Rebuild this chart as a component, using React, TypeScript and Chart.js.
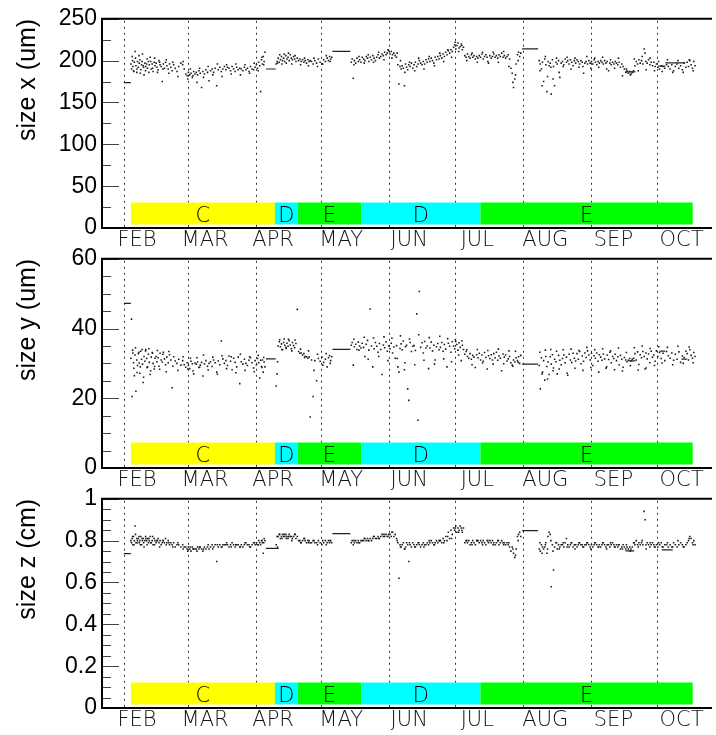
import React, { useEffect, useRef } from 'react';
import { Chart, registerables } from 'chart.js';
Chart.register(...registerables);

// ---- axis / category data ----
const monthNames = ['FEB', 'MAR', 'APR', 'MAY', 'JUN', 'JUL', 'AUG', 'SEP', 'OCT'];
const monthLabelDays = [37, 68, 99, 130, 161, 192, 223, 254, 285];
const monthStartDays = [31, 60, 91, 121, 152, 182, 213, 244, 274];

const periodStarts = [34.2, 99.8, 110.2, 139.1, 193.4];
const periodEnds = [99.8, 110.2, 139.1, 193.4, 290.1];
const periodNames = ['C', 'D', 'E', 'D', 'E'];

// ---- measurements (day of year) ----
const days = [
  34.2, 34.5, 34.8, 35.1, 35.4, 35.8, 36.1, 36.5, 36.9, 37.2,
  37.6, 38.0, 38.3, 38.7, 39.1, 39.5, 39.8, 40.2, 40.6, 41.0,
  41.4, 41.8, 42.2, 42.6, 43.0, 43.5, 43.9, 44.3, 44.8, 45.2,
  45.7, 46.1, 46.6, 47.0, 47.5, 48.0, 48.5, 49.0, 49.5, 50.0,
  50.6, 51.2, 51.8, 52.4, 53.0, 53.7, 54.4, 55.2, 56.0, 57.0,
  57.8, 58.5, 59.2, 59.8, 60.4, 61.0, 61.6, 62.2, 62.8, 63.4,
  64.0, 64.6, 65.2, 65.8, 66.4, 67.0, 67.7, 68.4, 69.1, 69.8,
  70.5, 71.2, 71.9, 72.6, 73.3, 74.0, 74.7, 75.4, 76.1, 76.8,
  77.5, 78.2, 78.9, 79.6, 80.3, 81.0, 81.7, 82.4, 83.1, 83.8,
  84.5, 85.2, 85.9, 86.6, 87.3, 88.0, 88.7, 89.4, 90.1, 90.8,
  91.4, 91.9, 92.4, 92.9, 93.3, 93.7, 94.1, 94.5, 94.9, 95.3,
  100.4, 100.8, 101.3, 101.8, 102.3, 102.8, 103.3, 103.8, 104.3, 104.8,
  105.3, 105.8, 106.3, 106.8, 107.3, 107.8, 108.3, 108.8, 109.4, 110.0,
  110.6, 111.2, 111.8, 112.4, 113.0, 113.6, 114.2, 114.8, 115.4, 115.9,
  116.5, 117.2, 118.0, 118.8, 119.6, 120.4, 121.2, 122.0, 122.8, 123.6,
  124.2, 124.7, 125.2, 125.7,
  134.6, 135.0, 135.5, 136.0, 136.6, 137.2, 137.8, 138.4, 139.0, 139.6,
  140.2, 140.8, 141.4, 142.0, 142.6, 143.2, 143.8, 144.4, 145.0, 145.6,
  146.2, 146.8, 147.4, 148.0, 148.6, 149.2, 149.8, 150.4, 151.0, 151.6,
  152.2, 152.8, 153.4, 154.0, 154.6, 155.2, 155.8, 156.3, 156.8, 157.3,
  157.8, 158.3, 158.8, 159.3, 159.8, 160.3, 160.8, 161.4, 162.0, 162.6,
  163.2, 163.8, 164.4, 165.0, 165.6, 166.2, 166.8, 167.4, 168.0, 168.6,
  169.2, 169.8, 170.4, 171.0, 171.6, 172.2, 172.8, 173.4, 174.0, 174.6,
  175.2, 175.8, 176.4, 177.0, 177.6, 178.2, 178.8, 179.4, 180.0, 180.6,
  181.2, 181.7, 182.2, 182.7, 183.2, 183.7, 184.2, 184.7, 185.2, 185.7,
  186.3, 186.9, 187.5, 188.1, 188.7, 189.3, 189.9, 190.5, 191.1, 191.7,
  192.3, 192.9, 193.5, 194.1, 194.7, 195.3, 195.9, 196.5, 197.1, 197.7,
  198.3, 198.9, 199.5, 200.1, 200.7, 201.3, 201.9, 202.5, 203.1, 203.7,
  204.3, 204.9, 205.5, 206.1, 206.7, 207.3, 207.9, 208.5, 209.1, 209.7,
  210.3, 210.8, 211.3, 211.8,
  220.2, 220.7, 221.2, 221.7, 222.2, 222.7, 223.2, 223.7, 224.2, 224.7,
  225.2, 225.7, 226.2, 226.7, 227.2, 227.8, 228.4, 229.0, 229.6, 230.2,
  230.8, 231.4, 232.0, 232.6, 233.2, 233.8, 234.4, 235.0, 235.6, 236.2,
  236.8, 237.4, 238.0, 238.6, 239.2, 239.8, 240.4, 241.0, 241.6, 242.2,
  242.8, 243.4, 244.0, 244.6, 245.2, 245.8, 246.4, 247.0, 247.6, 248.2,
  248.8, 249.4, 250.0, 250.6, 251.2, 251.8, 252.4, 253.0, 253.6, 254.2,
  254.8, 255.4, 256.0, 256.6, 257.2, 257.8, 258.4, 259.0, 259.6, 260.2,
  260.8, 261.4, 262.0, 262.6, 263.2, 263.8, 264.4, 265.0, 265.6, 266.2,
  266.8, 267.4, 268.0, 268.4, 268.8, 269.4, 270.0, 270.6, 271.2, 271.8,
  272.4, 273.0, 273.6, 274.2, 275.0, 275.8, 276.6, 277.4, 278.2, 279.0,
  279.8, 280.6, 281.4, 282.2, 283.0, 283.8, 284.6, 285.4, 286.2, 287.0,
  287.6, 288.2, 288.8, 289.4, 290.0, 290.6, 291.2,
  // second pass of readings (outer part of the cloud)
  35.0, 35.6, 36.3, 37.0, 37.9, 38.5, 39.3, 40.0, 40.9, 41.6,
  42.4, 43.2, 44.1, 45.0, 46.3, 47.3, 48.8, 50.3, 51.5, 53.3,
  55.6, 58.0, 60.1, 61.3, 62.5, 64.3, 65.5, 67.3, 69.4, 71.5,
  73.6, 75.7, 77.8, 79.9, 82.0, 84.1, 86.2, 88.3, 90.4, 92.2,
  93.9, 94.7,
  101.0, 102.0, 103.0, 104.0, 105.0, 106.0, 107.5, 109.0, 111.5, 113.3,
  115.1, 117.6, 119.2, 121.6, 123.2, 125.0,
  135.8, 138.1, 140.5, 142.3, 144.7, 147.1, 149.5, 151.3, 153.1, 155.5,
  157.0, 159.0, 161.1, 163.5, 165.3, 167.7, 170.1, 172.5, 174.9, 176.7,
  178.5, 180.3, 182.0, 183.5, 185.0, 187.2, 189.6, 192.0, 194.4, 196.8,
  199.2, 201.6, 204.0, 206.4, 208.2, 209.4, 210.6,
  220.5, 221.5, 223.0, 224.0, 225.5, 226.5, 228.1, 229.3, 231.1, 232.9,
  234.7, 236.5, 238.3, 240.1, 241.9, 243.7, 245.5, 247.3, 249.1, 250.9,
  252.7, 254.5, 256.3, 258.1, 259.9, 261.7, 263.5, 265.3, 267.1, 268.9,
  270.7, 272.7, 274.6, 276.2, 278.6, 281.0, 283.4, 285.8, 288.5, 290.3,
];

const sizeX = [
  196, 190, 205, 193, 188, 198, 211, 194, 186, 199,
  192, 197, 201, 189, 195, 208, 194, 183, 197, 193,
  196, 191, 199, 195, 204, 190, 196, 187, 198, 194,
  197, 192, 189, 200, 195, 193, 175, 196, 191, 198,
  194, 190, 196, 192, 188, 195, 191, 187, 193, 197,
  195, 190, 184, 182, 186, 183, 185, 180, 187, 184,
  186, 183, 188, 185, 168, 187, 184, 189, 186, 176,
  188, 190, 186, 191, 170, 189, 192, 187, 190, 193,
  189, 192, 191, 188, 193, 190, 187, 192, 189, 191,
  190, 188, 192, 189, 191, 187, 193, 190, 189, 192,
  195, 191, 198, 194, 163, 201, 196, 205, 199, 210,
  196, 199, 203, 198, 201, 205, 200, 203, 199, 206,
  202, 204, 200, 207, 203, 201, 205, 202, 199, 203,
  200, 202, 199, 201, 198, 200, 197, 201, 199, 200,
  199, 196, 200, 197, 202, 198, 196, 201, 199, 203,
  200, 205, 202, 204,
  198, 202, 179, 200, 197, 203, 199, 201, 198, 204,
  202, 200, 205, 203, 199, 204, 201, 206, 203, 200,
  204, 207, 203, 205, 208, 206, 210, 207, 209, 212,
  208, 211, 207, 209, 206, 204, 195, 172, 193, 190,
  194, 191, 170, 196, 192, 189, 195, 193, 197, 191,
  195, 198, 193, 196, 200, 197, 195, 199, 196, 201,
  198, 202, 199, 203, 200, 197, 204, 201, 205, 202,
  206, 203, 208, 205, 210, 207, 212, 209, 213, 211,
  216, 219, 214, 218, 221, 215, 217, 220, 213, 216,
  206, 204, 208, 205, 203, 207, 204, 206, 202, 205,
  203, 206, 204, 208, 202, 205, 207, 204, 197, 206,
  203, 205, 208, 204, 206, 203, 207, 205, 209, 204,
  206, 203, 205, 207, 202, 191, 185, 168, 178, 196,
  207, 210, 205, 209,
  200, 196, 190, 198, 175, 202, 195, 163, 199, 194,
  197, 160, 201, 193, 170, 198, 196, 200, 180, 197,
  199, 195, 202, 198, 200, 196, 201, 198, 194, 200,
  197, 201, 199, 196, 200, 198, 185, 197, 199, 196,
  200, 197, 199, 196, 201, 198, 195, 199, 197, 200,
  198, 196, 200, 197, 199, 188, 197, 195, 198, 196,
  199, 197, 195, 198, 192, 196, 193, 190, 186, 188,
  185, 187, 184, 186, 188, 194, 199, 196, 201, 197,
  200, 196, 214, 209, 199, 197, 201, 195, 198, 194,
  198, 193, 196, 192, 190, 194, 193, 191, 195, 193,
  190, 195, 188, 193, 196, 191, 194, 189, 197, 192,
  198, 193, 200, 195, 191, 199, 194,
  // second pass
  200, 187, 203, 190, 206, 185, 199, 192, 188, 202,
  186, 199, 191, 203, 186, 198, 190, 201, 185, 198,
  181, 199, 178, 190, 182, 174, 191, 180, 193, 183,
  196, 181, 195, 184, 196, 183, 195, 185, 197, 188,
  204, 195,
  197, 207, 196, 208, 197, 209, 196, 206, 195, 203,
  194, 203, 193, 196, 206, 199,
  195, 205, 197, 207, 198, 210, 201, 213, 203, 209,
  200, 186, 198, 188, 203, 190, 205, 194, 209, 199,
  213, 204, 222, 211, 218, 200, 209, 198, 210, 199,
  210, 198, 211, 193, 174, 183, 200,
  188, 170, 205, 181, 192, 178, 203, 186, 193, 204,
  190, 203, 192, 193, 205, 191, 203, 192, 204, 190,
  201, 191, 203, 182, 190, 183, 202, 188, 205, 189,
  203, 188, 199, 187, 201, 186, 200, 186, 201, 188,
];

const sizeY = [
  31.5, 42.7, 20.5, 33.0, 30.2, 26.5, 32.4, 22.0, 31.0, 29.4,
  32.8, 30.1, 27.2, 33.5, 31.2, 29.8, 24.5, 32.0, 30.6, 34.0,
  31.4, 29.0, 32.6, 30.3, 26.8, 31.8, 33.1, 30.0, 28.4, 31.5,
  32.0, 30.5, 31.6, 29.2, 32.9, 31.0, 30.4, 33.2, 31.3, 29.6,
  31.8, 30.2, 32.5, 31.0, 23.0, 31.9, 30.7, 30.0, 31.2, 29.5,
  30.8, 29.6, 28.9, 30.2, 29.4, 28.5, 30.6, 29.9, 27.0, 30.1,
  29.8, 30.4, 28.8, 29.5, 30.3, 26.4, 29.9, 30.8, 29.2, 30.0,
  30.5, 29.1, 31.0, 30.2, 27.5, 30.7, 29.6, 36.4, 31.3, 30.0,
  30.8, 29.4, 32.1, 30.6, 28.2, 31.5, 30.3, 29.0, 31.8, 24.2,
  30.5, 29.8, 31.2, 30.0, 29.4, 30.9, 31.6, 30.2, 28.7, 30.8,
  29.6, 31.4, 30.2, 25.8, 30.9, 29.1, 31.0, 27.5, 30.4, 29.0,
  23.5, 27.0, 35.0, 36.2, 34.8, 35.6, 33.9, 36.0, 35.2, 34.6,
  35.8, 34.9, 36.5, 35.3, 34.2, 36.0, 35.1, 34.5, 35.7, 45.5,
  33.4, 32.9, 33.0, 32.4, 32.8, 32.0, 31.9, 31.5, 31.8, 14.6,
  31.0, 20.5, 30.8, 25.0, 31.4, 30.6, 31.8, 30.3, 31.2, 29.0,
  31.6, 32.2, 30.8, 31.9,
  35.2, 36.0, 29.5, 34.8, 35.5, 34.0, 36.1, 35.0, 34.4, 35.8,
  34.6, 32.0, 35.5, 36.6, 33.8, 45.6, 35.0, 29.0, 34.2, 36.0,
  34.9, 33.2, 35.7, 34.0, 26.8, 35.3, 34.5, 36.2, 33.5, 35.0,
  34.2, 35.8, 33.0, 34.7, 31.5, 35.1, 29.0, 27.5, 34.3, 35.6,
  33.9, 36.4, 28.2, 34.8, 35.2, 22.7, 19.4, 36.0, 33.4, 34.9,
  35.1, 33.7, 44.2, 13.7, 50.6, 34.6, 35.9, 33.0, 36.3, 34.4,
  35.0, 28.5, 34.4, 36.1, 33.6, 35.2, 31.0, 34.8, 35.7, 33.9,
  34.6, 36.0, 33.5, 35.4, 34.1, 29.0, 35.8, 34.9, 33.2, 36.2,
  35.0, 34.2, 36.3, 35.4, 33.8, 35.9, 34.6, 30.8, 35.2, 34.0,
  32.6, 33.4, 32.0, 31.5, 32.8, 31.2, 32.3, 31.8, 28.8, 32.5,
  31.6, 32.9, 31.0, 32.4, 30.6, 33.1, 31.7, 28.4, 32.2, 31.4,
  32.5, 31.0, 32.8, 31.6, 33.2, 30.9, 32.1, 31.5, 27.9, 32.7,
  31.8, 32.4, 30.7, 31.3, 32.0, 30.2, 29.5, 31.0, 30.4, 31.6,
  30.8, 31.9, 30.0, 32.3,
  29.4, 22.7, 31.6, 27.5, 30.8, 25.2, 32.0, 29.1, 30.4, 26.8,
  31.9, 29.8, 32.5, 28.7, 31.2, 30.5, 27.0, 32.3, 30.9, 29.6,
  31.4, 32.4, 30.2, 31.8, 26.6, 32.6, 31.0, 30.3, 32.9, 31.5,
  30.7, 32.8, 31.2, 33.4, 29.9, 32.1, 30.6, 33.0, 31.7, 33.6,
  32.4, 31.0, 32.9, 29.4, 32.2, 31.5, 33.0, 30.6, 32.5, 31.8,
  30.9, 32.7, 31.3, 28.6, 32.4, 31.1, 33.2, 30.2, 32.0, 31.4,
  32.6, 30.8, 31.9, 29.6, 32.3, 31.2, 28.9, 31.7, 31.0, 30.5,
  30.9, 31.4, 30.7, 31.2, 31.5, 32.8, 31.0, 33.3, 29.7, 32.5,
  31.6, 33.4, 32.0, 28.4, 33.0, 31.3, 32.7, 30.2, 33.5, 31.8,
  32.4, 30.6, 33.6, 32.0, 33.1, 31.4, 32.9, 30.8, 33.4, 32.2,
  31.5, 33.0, 30.9, 32.6, 31.2, 33.3, 30.3, 32.1, 31.7, 33.5,
  32.8, 31.0, 33.9, 32.3, 31.5, 33.1, 32.0,
  // second pass
  33.8, 28.6, 34.5, 27.4, 33.2, 29.0, 34.0, 26.0, 33.6, 28.8,
  34.2, 27.9, 32.9, 29.1, 33.7, 28.3, 32.6, 27.6, 33.4, 29.2,
  28.0, 31.9, 28.4, 31.5, 27.8, 31.6, 28.9, 32.4, 28.1, 31.8,
  26.9, 32.2, 28.5, 31.9, 27.3, 32.6, 28.0, 31.9, 27.6, 32.3,
  28.8, 31.7,
  30.5, 36.8, 34.0, 37.0, 34.3, 36.9, 33.6, 36.7, 34.1, 31.7,
  33.6, 28.0, 32.6, 29.5, 32.8, 30.0,
  36.9, 33.8, 37.5, 31.2, 37.3, 32.0, 37.6, 30.8, 37.2, 31.4,
  37.9, 30.2, 37.0, 29.6, 38.2, 30.9, 37.4, 29.8, 37.8, 31.3,
  37.1, 30.5, 36.8, 32.4, 36.5, 33.9, 29.6, 34.0, 30.1, 33.7,
  29.8, 34.1, 29.9, 33.6, 29.2, 33.5, 30.3,
  33.2, 27.0, 33.8, 25.5, 34.0, 27.9, 33.5, 28.4, 33.9, 27.2,
  34.1, 28.6, 33.7, 28.0, 34.6, 28.8, 33.9, 27.5, 34.2, 29.0,
  33.6, 28.2, 34.4, 27.8, 33.1, 29.3, 34.5, 28.1, 35.0, 28.7,
  34.3, 29.4, 34.8, 30.1, 34.6, 29.6, 34.9, 30.0, 34.7, 30.2,
];

const sizeZ = [
  0.80, 0.79, 0.81, 0.78, 0.82, 0.80, 0.87, 0.79, 0.81, 0.80,
  0.81, 0.79, 0.80, 0.82, 0.78, 0.80, 0.81, 0.77, 0.80, 0.81,
  0.80, 0.81, 0.79, 0.80, 0.82, 0.79, 0.80, 0.78, 0.81, 0.80,
  0.79, 0.80, 0.81, 0.79, 0.80, 0.78, 0.79, 0.80, 0.79, 0.81,
  0.79, 0.80, 0.78, 0.79, 0.78, 0.79, 0.77, 0.78, 0.78, 0.77,
  0.78, 0.77, 0.77, 0.76, 0.77, 0.76, 0.75, 0.77, 0.76, 0.76,
  0.76, 0.77, 0.76, 0.77, 0.76, 0.75, 0.77, 0.76, 0.77, 0.76,
  0.77, 0.78, 0.77, 0.78, 0.70, 0.77, 0.78, 0.77, 0.78, 0.78,
  0.78, 0.78, 0.77, 0.78, 0.79, 0.78, 0.77, 0.78, 0.78, 0.77,
  0.78, 0.77, 0.78, 0.79, 0.78, 0.78, 0.77, 0.78, 0.79, 0.78,
  0.79, 0.78, 0.80, 0.79, 0.78, 0.80, 0.79, 0.74, 0.81, 0.80,
  0.78, 0.82, 0.82, 0.83, 0.81, 0.82, 0.83, 0.82, 0.82, 0.83,
  0.82, 0.81, 0.83, 0.82, 0.82, 0.81, 0.82, 0.83, 0.81, 0.82,
  0.80, 0.80, 0.79, 0.80, 0.81, 0.80, 0.79, 0.80, 0.80, 0.79,
  0.79, 0.80, 0.79, 0.79, 0.80, 0.79, 0.78, 0.79, 0.80, 0.79,
  0.80, 0.79, 0.80, 0.79,
  0.79, 0.80, 0.78, 0.79, 0.80, 0.79, 0.80, 0.79, 0.80, 0.80,
  0.80, 0.81, 0.80, 0.81, 0.80, 0.81, 0.80, 0.81, 0.82, 0.81,
  0.81, 0.82, 0.81, 0.82, 0.83, 0.82, 0.82, 0.83, 0.82, 0.83,
  0.83, 0.82, 0.84, 0.82, 0.83, 0.81, 0.79, 0.62, 0.78, 0.77,
  0.78, 0.79, 0.76, 0.77, 0.79, 0.78, 0.70, 0.78, 0.77, 0.79,
  0.78, 0.77, 0.78, 0.79, 0.78, 0.77, 0.78, 0.79, 0.78, 0.78,
  0.79, 0.78, 0.79, 0.80, 0.79, 0.78, 0.79, 0.80, 0.79, 0.80,
  0.80, 0.79, 0.81, 0.80, 0.82, 0.80, 0.84, 0.81, 0.85, 0.83,
  0.86, 0.85, 0.87, 0.84, 0.86, 0.85, 0.87, 0.86, 0.84, 0.86,
  0.79, 0.80, 0.79, 0.80, 0.78, 0.79, 0.80, 0.79, 0.78, 0.80,
  0.80, 0.79, 0.80, 0.79, 0.80, 0.79, 0.78, 0.80, 0.79, 0.80,
  0.79, 0.80, 0.79, 0.78, 0.79, 0.80, 0.78, 0.79, 0.80, 0.79,
  0.79, 0.78, 0.79, 0.78, 0.77, 0.75, 0.77, 0.74, 0.72, 0.76,
  0.82, 0.83, 0.84, 0.82,
  0.76, 0.75, 0.78, 0.77, 0.76, 0.77, 0.79, 0.74, 0.82, 0.84,
  0.83, 0.58, 0.78, 0.66, 0.77, 0.79, 0.76, 0.78, 0.77, 0.78,
  0.78, 0.77, 0.79, 0.81, 0.78, 0.77, 0.78, 0.79, 0.77, 0.78,
  0.78, 0.77, 0.78, 0.79, 0.78, 0.78, 0.77, 0.78, 0.78, 0.79,
  0.78, 0.77, 0.78, 0.77, 0.78, 0.79, 0.78, 0.77, 0.78, 0.77,
  0.78, 0.79, 0.78, 0.77, 0.78, 0.78, 0.77, 0.78, 0.79, 0.78,
  0.77, 0.78, 0.77, 0.78, 0.76, 0.77, 0.78, 0.77, 0.76, 0.77,
  0.76, 0.77, 0.76, 0.77, 0.79, 0.78, 0.80, 0.78, 0.79, 0.78,
  0.79, 0.78, 0.94, 0.90, 0.78, 0.79, 0.78, 0.77, 0.78, 0.79,
  0.78, 0.77, 0.78, 0.77, 0.78, 0.79, 0.77, 0.78, 0.78, 0.77,
  0.78, 0.77, 0.79, 0.78, 0.77, 0.78, 0.79, 0.78, 0.77, 0.78,
  0.79, 0.80, 0.82, 0.81, 0.79, 0.80, 0.78,
  // second pass
  0.82, 0.78, 0.83, 0.79, 0.82, 0.78, 0.81, 0.79, 0.82, 0.78,
  0.81, 0.79, 0.82, 0.78, 0.80, 0.77, 0.80, 0.78, 0.79, 0.77,
  0.79, 0.76, 0.75, 0.77, 0.76, 0.75, 0.77, 0.76, 0.78, 0.76,
  0.78, 0.77, 0.79, 0.77, 0.78, 0.77, 0.79, 0.77, 0.79, 0.78,
  0.80, 0.79,
  0.77, 0.83, 0.81, 0.83, 0.81, 0.82, 0.80, 0.83, 0.79, 0.81,
  0.79, 0.80, 0.78, 0.80, 0.78, 0.80,
  0.80, 0.79, 0.81, 0.80, 0.82, 0.81, 0.83, 0.82, 0.84, 0.80,
  0.77, 0.76, 0.79, 0.77, 0.79, 0.77, 0.80, 0.78, 0.80, 0.79,
  0.82, 0.81, 0.86, 0.84, 0.85, 0.80, 0.78, 0.80, 0.78, 0.80,
  0.78, 0.80, 0.78, 0.79, 0.76, 0.73, 0.80,
  0.79, 0.74, 0.78, 0.76, 0.80, 0.75, 0.79, 0.76, 0.79, 0.77,
  0.79, 0.76, 0.79, 0.77, 0.79, 0.76, 0.79, 0.77, 0.79, 0.76,
  0.79, 0.77, 0.78, 0.76, 0.78, 0.75, 0.79, 0.77, 0.80, 0.76,
  0.79, 0.77, 0.79, 0.77, 0.79, 0.77, 0.80, 0.77, 0.81, 0.78,
];

// [startDay, endDay, value] — long averaged intervals drawn as flat segments
const sizeXSegments = [
  [31, 34.2, 173.8], [95.7, 100.2, 190], [126, 134.2, 211], [212.4, 219.7, 214],
  [259.5, 264, 186.5], [274.4, 277.6, 193.5], [277.6, 286.7, 197.4],
];
const sizeYSegments = [
  [31, 34.2, 47.2], [95.7, 100.2, 31.3], [126, 134.2, 34], [212.4, 219.7, 29.8],
  [261, 264, 30.7], [275, 277.6, 33.5], [285, 287.6, 31.2],
];
const sizeZSegments = [
  [31, 34.2, 0.738], [95.7, 101.5, 0.763], [126, 134.2, 0.834], [212.4, 219.7, 0.848],
  [259.5, 263.5, 0.751], [276, 281, 0.756],
];

// ---- styling ----
const periodColors: Record<string, string> = { C: '#ffff00', D: '#00ffff', E: '#00ff00' };
const SANS = '"Liberation Sans", Arial, Helvetica, sans-serif';
const THIN = '"DejaVu Sans", "Liberation Sans", sans-serif';

type PanelProps = {
  top: number;
  values: number[];
  segments: number[][];
  title: string;
  yMax: number;
  yStep: number;
  yMinor: number;
};

function Panel({ top, values, segments, title, yMax, yStep, yMinor }: PanelProps) {
  const ref = useRef<HTMLCanvasElement>(null);

  useEffect(() => {
    const canvas = ref.current;
    if (!canvas) return;
    const points = days.map((d, i) => ({ x: d, y: values[i] }));
    const segDatasets = segments.map(([s, e, v]) => ({
      type: 'line' as const,
      data: [{ x: s, y: v }, { x: e, y: v }],
      borderColor: '#222',
      borderWidth: 1.2,
      pointRadius: 0,
      fill: false,
    }));

    const decor = {
      id: 'decor',
      beforeDatasetsDraw(chart: any) {
        const { ctx, chartArea: a, scales } = chart;
        const xs = scales.x;
        ctx.save();
        ctx.beginPath();
        ctx.rect(a.left, a.top, a.right - a.left, a.bottom - a.top);
        ctx.clip();
        ctx.strokeStyle = '#333';
        ctx.lineWidth = 1;
        ctx.setLineDash([2, 4]);
        monthStartDays.forEach((d) => {
          const px = Math.round(xs.getPixelForValue(d)) + 0.5;
          ctx.beginPath();
          ctx.moveTo(px, a.top + 2);
          ctx.lineTo(px, a.bottom);
          ctx.stroke();
        });
        ctx.setLineDash([]);
        periodStarts.forEach((s, i) => {
          const x0 = xs.getPixelForValue(s);
          const x1 = xs.getPixelForValue(periodEnds[i]);
          ctx.fillStyle = periodColors[periodNames[i]];
          ctx.fillRect(x0, a.bottom - 25.5, x1 - x0, 22);
          ctx.fillStyle = '#000';
          ctx.font = `200 21px ${THIN}`;
          ctx.textAlign = 'center';
          ctx.textBaseline = 'alphabetic';
          ctx.fillText(periodNames[i], (x0 + x1) / 2, a.bottom - 6);
        });
        ctx.restore();
      },
      afterDraw(chart: any) {
        const { ctx, chartArea: a, scales } = chart;
        const ys = scales.y;
        ctx.save();
        ctx.strokeStyle = '#444';
        ctx.lineWidth = 1;
        const n = Math.round(yMax / yMinor);
        for (let k = 0; k <= n; k++) {
          const v = k * yMinor;
          const major = Math.abs(v / yStep - Math.round(v / yStep)) < 1e-6;
          const py = Math.round(ys.getPixelForValue(v)) + 0.5;
          ctx.beginPath();
          ctx.moveTo(a.left, py);
          ctx.lineTo(a.left + (major ? 17 : 9), py);
          ctx.stroke();
        }
        ctx.strokeStyle = '#000';
        ctx.lineWidth = 2;
        ctx.beginPath();
        ctx.moveTo(a.right, a.top);
        ctx.lineTo(a.left, a.top);
        ctx.lineTo(a.left, a.bottom);
        ctx.lineTo(a.right, a.bottom);
        ctx.stroke();
        ctx.restore();
      },
    };

    const chart = new Chart(canvas, {
      type: 'scatter',
      data: {
        datasets: [
          {
            data: points,
            pointStyle: 'rect',
            pointRadius: 1.1,
            backgroundColor: '#1a1a1a',
            borderWidth: 0,
          } as any,
          ...(segDatasets as any[]),
        ],
      },
      options: {
        responsive: false,
        animation: false,
        events: [],
        layout: { padding: { top: 16, left: 0, right: 0, bottom: 0 } },
        plugins: { legend: { display: false }, tooltip: { enabled: false } },
        scales: {
          x: {
            type: 'linear',
            min: 21.05,
            max: 298.9,
            afterBuildTicks: (s: any) => {
              s.ticks = monthLabelDays.map((v) => ({ value: v }));
            },
            afterFit: (s: any) => {
              s.height = 27;
            },
            grid: { display: false, drawTicks: false },
            border: { display: false },
            ticks: {
              autoSkip: false,
              maxRotation: 0,
              minRotation: 0,
              padding: 0,
              color: '#111',
              font: { family: THIN, size: 21, weight: '200' as any },
              callback: (_v: any, i: number) => monthNames[i],
            },
          },
          y: {
            min: 0,
            max: yMax,
            afterFit: (s: any) => {
              s.width = 102;
            },
            grid: { display: false, drawTicks: false },
            border: { display: false },
            ticks: {
              stepSize: yStep,
              padding: 5,
              color: '#000',
              font: { family: SANS, size: 23 },
              callback: (v: any) => String(parseFloat(Number(v).toFixed(3))),
            },
            title: {
              display: true,
              text: title,
              align: 'end',
              color: '#000',
              font: { family: SANS, size: 25 },
              padding: { top: 13, bottom: 0 },
            },
          },
        },
      },
      plugins: [decor],
    });
    return () => chart.destroy();
  }, [values, segments, title, yMax, yStep, yMinor]);

  return (
    <canvas
      ref={ref}
      width={716}
      height={255}
      style={{ position: 'absolute', left: 0, top, width: 716, height: 255 }}
    />
  );
}

export default function App() {
  return (
    <div style={{ position: 'absolute', left: 0, top: 0, width: 716, height: 735, background: '#fff', overflow: 'hidden' }}>
      <Panel top={0} values={sizeX} segments={sizeXSegments} title="size x (um)" yMax={250} yStep={50} yMinor={25} />
      <Panel top={240} values={sizeY} segments={sizeYSegments} title="size y (um)" yMax={60} yStep={20} yMinor={5} />
      <Panel top={480} values={sizeZ} segments={sizeZSegments} title="size z (cm)" yMax={1} yStep={0.2} yMinor={0.05} />
    </div>
  );
}
